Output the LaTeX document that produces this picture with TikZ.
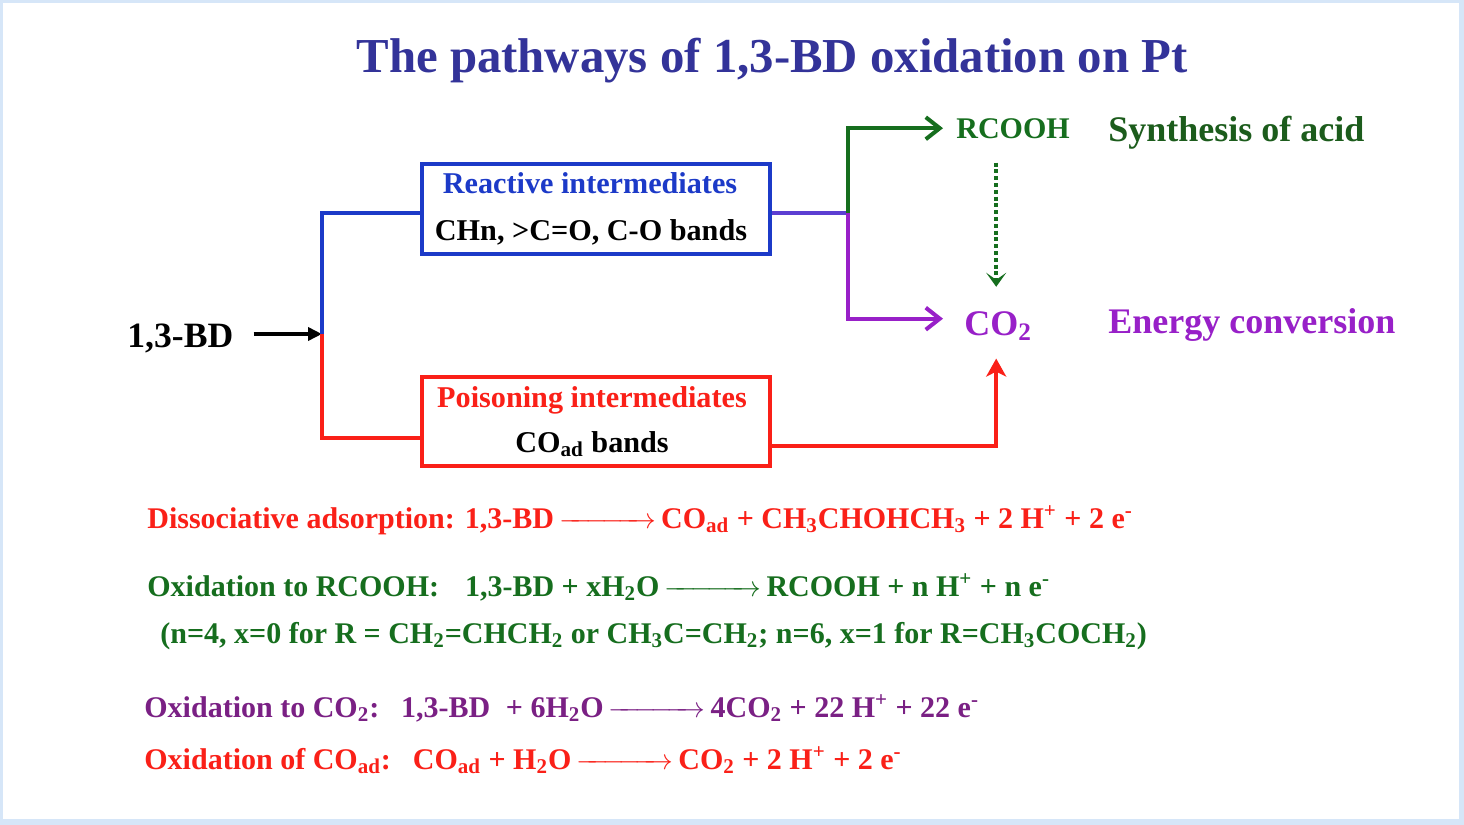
\documentclass[tikz,border=0pt]{standalone}
\usepackage{amsmath}
\usepackage{fontspec}
\setmainfont{Liberation Serif}
\usetikzlibrary{arrows.meta}
\definecolor{ctitle}{RGB}{51,51,153}
\definecolor{cblue}{RGB}{28,58,200}
\definecolor{cred}{RGB}{250,32,24}
\definecolor{cgreen}{RGB}{22,110,30}
\definecolor{cdgreen}{RGB}{28,92,28}
\definecolor{cpurple}{RGB}{152,32,200}
\definecolor{cdpurple}{RGB}{122,32,132}
\definecolor{cbluepurple}{RGB}{92,62,210}
\definecolor{cframe}{RGB}{214,230,248}
\newcommand{\eqarr}{\,$\xrightarrow{\hspace{40pt}}$\,}
\begin{document}
\begin{tikzpicture}[x=0.5pt,y=-0.5pt,
  txt/.style={inner sep=0pt, font=\bfseries},
  eq/.style={inner sep=0pt, anchor=base west, font=\bfseries\fontsize{15.0}{18}\selectfont},
  ibox/.style={draw, line width=1.8pt, minimum width=174pt, minimum height=45pt, inner sep=0pt, align=center},
  conn/.style={line width=2pt},
  barb/.style={-{Straight Barb[length=7pt,width=11pt]}},
  solidhead/.style={-{Stealth[length=9pt,width=10pt,inset=2.5pt]}}
]
\useasboundingbox (0,0) rectangle (1464,825);
\fill[cframe] (0,0) rectangle (1464,825);
\fill[white] (3,3) rectangle (1459,819);

\node[txt, anchor=base, text=ctitle, font=\bfseries\fontsize{24.4}{28}\selectfont] (title) at (772,72) {The pathways of 1,3-BD oxidation on Pt};

\node[txt, anchor=base west, font=\bfseries\fontsize{17.8}{20}\selectfont] (bd) at (127,347) {1,3-BD};
\coordinate (split) at (322,334);

\node[ibox, draw=cblue, font=\bfseries\fontsize{15.1}{23.5}\selectfont] (rbox) at (596,209)
  {\hspace*{-6pt}\textcolor{cblue}{Reactive intermediates}\\\hspace*{-5pt}CHn, >C=O, C-O bands};
\node[ibox, draw=cred, minimum height=44.5pt, font=\bfseries\fontsize{15.1}{22.5}\selectfont] (pbox) at (596,421.5)
  {\hspace*{-4pt}\textcolor{cred}{Poisoning intermediates}\\\hspace*{-4pt}CO\textsubscript{ad} bands};

\coordinate (j2) at (848,213);

\node[txt, anchor=base west, text=cgreen, font=\bfseries\fontsize{15}{18}\selectfont] (rcooh) at (956,138) {RCOOH};
\node[txt, anchor=base west, text=cdgreen, font=\bfseries\fontsize{18}{21}\selectfont] (syn) at (1108,141) {Synthesis of acid};
\node[txt, anchor=base west, text=cpurple, font=\bfseries\fontsize{18}{21}\selectfont] (co2) at (964,335) {CO\textsubscript{2}};
\node[txt, anchor=base west, text=cpurple, font=\bfseries\fontsize{18}{21}\selectfont] (energy) at (1108,333) {Energy conversion};

% connectors
\draw[conn, -{Triangle[length=7pt,width=6.5pt]}] ([xshift=10pt]bd.east |- split) -- (split);
\draw[conn, cblue] (split) |- ([yshift=-2pt]rbox.west);
\draw[conn, cred] (split) |- ([yshift=-8pt]pbox.west);
\draw[conn, cbluepurple] ([yshift=-2pt]rbox.east) -- (j2);
\draw[conn, cgreen, barb] (j2) |- ([xshift=-6.5pt]rcooh.west);
\draw[conn, cpurple, barb] (j2) |- ([xshift=-10.5pt,yshift=3.5pt]co2.west);
\draw[conn, cgreen, dash pattern=on 2pt off 1.4pt, -{Stealth[length=7pt,width=10pt,inset=3.5pt]}, shorten <=12pt, shorten >=12pt]
  ([xshift=-1pt]co2.north |- rcooh.south) -- ([xshift=-1pt]co2.north);
\draw[conn, cred, solidhead, shorten >=9pt] ([yshift=-12pt]pbox.east) -| ([xshift=-1pt]co2.south);

% equations
\node[eq, text=cred] (eq1) at (147,528) {Dissociative adsorption: 1,3-BD\eqarr CO\textsubscript{ad} + CH\textsubscript{3}CHOHCH\textsubscript{3} + 2 H\textsuperscript{+} + 2 e\textsuperscript{-}};
\node[eq, text=cgreen] (eq2) at (147,596) {Oxidation to RCOOH:\hspace{13pt}1,3-BD + xH\textsubscript{2}O\eqarr RCOOH + n H\textsuperscript{+} + n e\textsuperscript{-}};
\node[eq, text=cgreen] (eq3) at (160,643) {(n=4, x=0 for R = CH\textsubscript{2}=CHCH\textsubscript{2} or CH\textsubscript{3}C=CH\textsubscript{2}; n=6, x=1 for R=CH\textsubscript{3}COCH\textsubscript{2})};
\node[eq, text=cdpurple] (eq4) at (144,717) {Oxidation to CO\textsubscript{2}:\hspace{11pt}1,3-BD\hspace{4pt} + 6H\textsubscript{2}O\eqarr 4CO\textsubscript{2} + 22 H\textsuperscript{+} + 22 e\textsuperscript{-}};
\node[eq, text=cred] (eq5) at (144,769) {Oxidation of CO\textsubscript{ad}:\hspace{11pt}CO\textsubscript{ad} + H\textsubscript{2}O\eqarr CO\textsubscript{2} + 2 H\textsuperscript{+} + 2 e\textsuperscript{-}};
\end{tikzpicture}
\end{document}
